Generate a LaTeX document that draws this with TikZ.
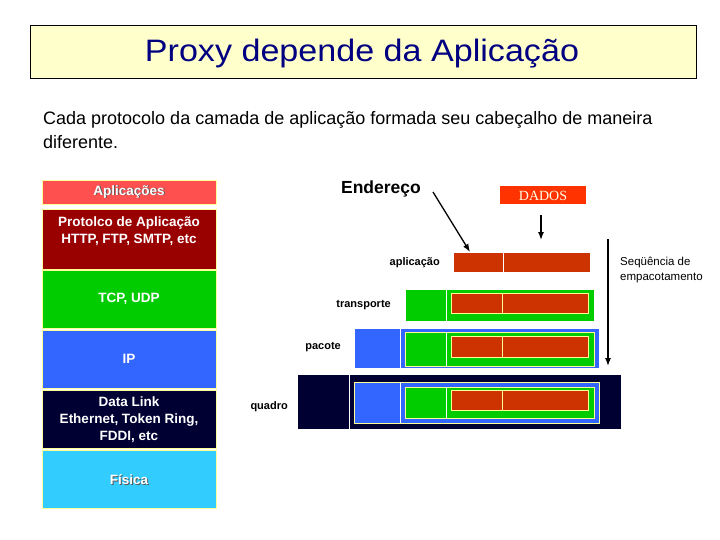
\documentclass[tikz,border=0pt]{standalone}
\usepackage{fontspec}
\usetikzlibrary{arrows.meta}
\setmainfont{Liberation Sans}
\newfontfamily\serifdados{Liberation Serif}
\definecolor{titlebg}{HTML}{FFFFCC}
\definecolor{titlefg}{HTML}{000080}
\definecolor{apl}{HTML}{FF5050}
\definecolor{proto}{HTML}{990000}
\definecolor{tgreen}{HTML}{00CC00}
\definecolor{ipblue}{HTML}{3366FF}
\definecolor{navy}{HTML}{000033}
\definecolor{fis}{HTML}{33CCFF}
\definecolor{datared}{HTML}{CC3300}
\definecolor{dadosred}{HTML}{FF3300}
\definecolor{paleline}{HTML}{FFFF99}
\newcommand\shadowed[1]{\makebox[0pt][l]{\hspace{0.9pt}\raisebox{-0.9pt}{\color{black!65}#1}}#1}
\begin{document}
\begin{tikzpicture}[x=1pt,y=-1pt,
  stackbox/.style={draw=paleline, line width=0.8pt, inner sep=0pt, outer sep=0pt, anchor=north west, minimum width=174pt},
  stacktxt/.style={text=white, font=\bfseries\fontsize{13.5}{17}\selectfont, align=center, inner sep=0pt},
  pkt/.style={inner sep=0pt, outer sep=0pt, anchor=north west},
  lbl/.style={font=\bfseries\fontsize{11}{13}\selectfont, inner sep=0pt},
  arr/.style={-{Latex[length=8pt,width=6pt]}, line width=1.3pt}]
\useasboundingbox (0,0) rectangle (720,540);
\fill[white] (0,0) rectangle (720,540);
% title
\node[draw=black, fill=titlebg, line width=0.8pt, anchor=north west, minimum width=666pt, minimum height=53pt, inner sep=0pt] (title) at (30,25) {};
\node[text=titlefg, font=\fontsize{31}{34}\selectfont, inner sep=0pt, xscale=1.1] (titletxt) at (362,54) {Proxy depende da Aplicação};
% body text
\node[anchor=west, font=\fontsize{18}{24}\selectfont, align=left, inner sep=0pt] (body) at (43,130) {Cada protocolo da camada de aplicação formada seu cabeçalho de maneira\\diferente.};
% left stack
\node[stackbox, fill=apl, minimum height=24pt] (s1) at (42,180) {};
\node[stacktxt] (s1t) at (129,192) {\shadowed{Aplicações}};
\node[stackbox, fill=proto, minimum height=60pt] (s2) at (42,209) {};
\node[stacktxt] (s2t) at (129,231.5) {Protolco de Aplicação\\HTTP, FTP, SMTP, etc};
\node[stackbox, fill=tgreen, minimum height=58pt] (s3) at (42,270) {};
\node[stacktxt] (s3t) at (129,299) {TCP, UDP};
\node[stackbox, fill=ipblue, minimum height=58pt] (s4) at (42,330) {};
\node[stacktxt] (s4t) at (129,359) {IP};
\node[stackbox, fill=navy, minimum height=58pt] (s5) at (42,390) {};
\node[stacktxt] (s5t) at (129,420) {Data Link\\Ethernet, Token Ring,\\FDDI, etc};
\node[stackbox, fill=fis, minimum height=58pt] (s6) at (42,450) {};
\node[stacktxt] (s6t) at (129,480) {\shadowed{Física}};
% top labels
\node[font=\bfseries\fontsize{17.5}{20}\selectfont, inner sep=0pt] (end) at (381,189) {Endereço};
\node[pkt, fill=dadosred, minimum width=86pt, minimum height=18pt] (dados) at (500,186) {};
\node[text=white!90!yellow, font=\serifdados\fontsize{14}{16}\selectfont, inner sep=0pt] at (543,196) {DADOS};
% application row
\node[lbl, anchor=east] (la) at (440,263) {aplicação};
\node[pkt, fill=datared, minimum width=49pt, minimum height=19pt] (ah) at (454,253) {};
\node[pkt, fill=datared, minimum width=86pt, minimum height=19pt] (ad) at (504,253) {};
% transport row
\node[lbl, anchor=east] (lt) at (391,305.5) {transporte};
\node[pkt, fill=tgreen, minimum width=188pt, minimum height=31pt] (t) at (406,290) {};
\draw[white, line width=0.8pt] (446,290) -- (446,321);
\node[pkt, fill=datared, draw=paleline, line width=0.8pt, minimum width=137pt, minimum height=20pt] (tr) at (451,293) {};
\draw[paleline, line width=0.8pt] (502,293) -- (502,313);
% packet row
\node[lbl, anchor=east] (lp) at (341,347.5) {pacote};
\node[pkt, fill=ipblue, minimum width=244pt, minimum height=39pt] (p) at (355,329) {};
\draw[white, line width=0.8pt] (400,329) -- (400,368);
\node[pkt, fill=tgreen, draw=paleline, line width=0.8pt, minimum width=189pt, minimum height=34pt] (pg) at (405,332) {};
\draw[white, line width=0.8pt] (446,332) -- (446,366);
\node[pkt, fill=datared, draw=paleline, line width=0.8pt, minimum width=137pt, minimum height=21pt] (pr) at (451,336) {};
\draw[paleline, line width=0.8pt] (502,336) -- (502,357);
% frame row
\node[lbl, anchor=east] (lq) at (288,407) {quadro};
\node[pkt, fill=navy, minimum width=323pt, minimum height=54pt] (q) at (298,375) {};
\draw[white, line width=0.8pt] (349,375) -- (349,429);
\node[pkt, fill=ipblue, draw=paleline, line width=0.8pt, minimum width=245pt, minimum height=41pt] (qb) at (354,382) {};
\draw[white, line width=0.8pt] (400,382) -- (400,423);
\node[pkt, fill=tgreen, draw=paleline, line width=0.8pt, minimum width=189pt, minimum height=31pt] (qg) at (405,387) {};
\draw[white, line width=0.8pt] (446,387) -- (446,418);
\node[pkt, fill=datared, draw=paleline, line width=0.8pt, minimum width=137pt, minimum height=20pt] (qr) at (451,390) {};
\draw[paleline, line width=0.8pt] (502,390) -- (502,410);
% arrows
\coordinate (e1) at (433,192);
\coordinate (e2) at (470,252);
\draw[arr] (e1) -- (e2);
\coordinate (d1) at (541,215);
\coordinate (d2) at (541,240);
\draw[arr] (d1) -- (d2);
\coordinate (v1) at (608,239);
\coordinate (v2) at (608,366);
\draw[arr] (v1) -- (v2);
\node[anchor=north west, font=\fontsize{11.5}{15}\selectfont, align=left, inner sep=0pt] (seq) at (620,257) {Seqüência de\\empacotamento};
\end{tikzpicture}
\end{document}
